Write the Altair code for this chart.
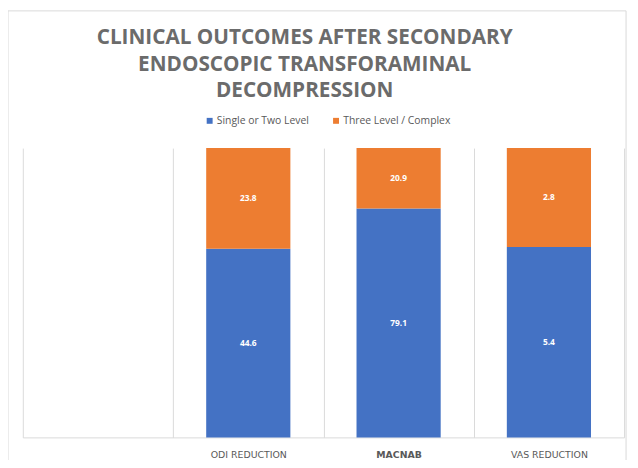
import altair as alt
import pandas as pd

categories = [" ", "ODI REDUCTION", "MACNAB", "VAS REDUCTION"]
measures = ["ODI REDUCTION", "MACNAB", "VAS REDUCTION"]
single_two = [44.6, 79.1, 5.4]
three_complex = [23.8, 20.9, 2.8]
series = ["Single or Two Level", "Three Level / Complex"]
colors = ["#4472C4", "#ED7D31"]

rows = []
for m, a, b in zip(measures, single_two, three_complex):
    rows.append({"measure": m, "group": series[0], "value": a, "ord": 0})
    rows.append({"measure": m, "group": series[1], "value": b, "ord": 1})
df = pd.DataFrame(rows)

W, H = 609, 293

xenc = alt.X(
    "measure:N",
    scale=alt.Scale(domain=categories, paddingInner=0, paddingOuter=0),
    sort=categories,
    axis=alt.Axis(
        title=None, labelAngle=0, ticks=False, grid=True, tickBand="extent",
        gridColor="#d9d9d9", domainColor="#d9d9d9", labelPadding=12,
        labelFont="DejaVu Sans", labelFontSize=9.5, labelColor="#595959",
        labelFontWeight=alt.condition("datum.value == 'MACNAB'", alt.value("bold"), alt.value("normal")),
    ),
)

bars = alt.Chart(df).mark_bar(width={"band": 0.56}).encode(
    x=xenc,
    y=alt.Y("value:Q", stack="normalize", axis=None, scale=alt.Scale(domain=[0, 1])),
    color=alt.Color(
        "group:N",
        scale=alt.Scale(domain=series, range=colors),
        legend=alt.Legend(
            title=None, orient="none", direction="horizontal", legendX=184, legendY=-33,
            symbolType="square", symbolSize=36, symbolStrokeWidth=0,
            labelFont="Open Sans", labelFontSize=10.5, labelColor="#595959",
            columnPadding=22, labelOffset=2,
        ),
    ),
    order=alt.Order("ord:Q"),
)

labels = alt.Chart(df).transform_joinaggregate(
    total="sum(value)", groupby=["measure"]
).transform_calculate(
    frac="datum.value / datum.total"
).transform_window(
    cum="sum(frac)", groupby=["measure"], sort=[alt.SortField("ord")]
).transform_calculate(
    mid="datum.cum - datum.frac / 2"
).mark_text(
    color="white", font="Open Sans", fontSize=8.5, fontWeight="bold"
).encode(
    x=alt.X("measure:N", sort=categories, scale=alt.Scale(domain=categories)),
    y=alt.Y("mid:Q", scale=alt.Scale(domain=[0, 1])),
    text=alt.Text("value:Q", format=".1f"),
)

border = alt.Chart(pd.DataFrame({"a": [0]})).mark_rect(
    fill=None, stroke="#d9d9d9", strokeWidth=1
).encode(
    x=alt.value(-15), x2=alt.value(W + 2), y=alt.value(-139), y2=alt.value(H + 60)
)

chart = alt.layer(border, bars, labels).properties(
    width=W, height=H,
    title=alt.TitleParams(
        ["CLINICAL OUTCOMES AFTER SECONDARY", "ENDOSCOPIC TRANSFORAMINAL", "DECOMPRESSION"],
        font="Open Sans", fontSize=21, fontWeight="bold", color="#6b6b6b",
        anchor="middle", frame="group", dx=-19, dy=92, offset=0, lineHeight=27,
    ),
    autosize=alt.AutoSizeParams(type="none"),
    padding={"left": 15, "top": 139, "right": 6, "bottom": 20},
).configure_view(stroke=None)

chart.save("out.html", embed_options={"renderer": "svg", "actions": False})
